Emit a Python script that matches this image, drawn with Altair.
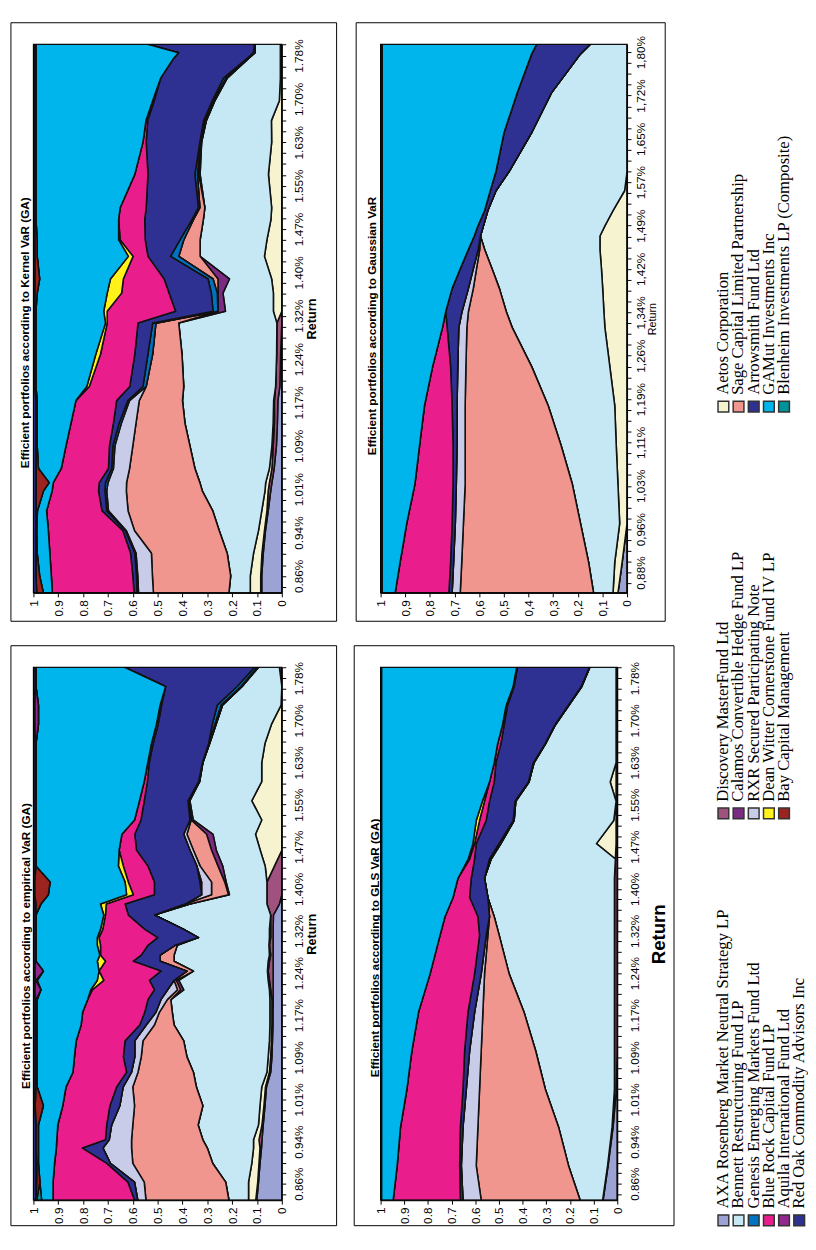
import altair as alt
import pandas as pd

SANS = "Liberation Sans, Arial, Helvetica, sans-serif"
SERIF = "Liberation Serif, Times New Roman, serif"

# ---------------- series (stack order from weight 0 upward) ----------------
SERIES = [
    "AXA Rosenberg Market Neutral Strategy LP",
    "Discovery MasterFund Ltd",
    "Aetos Corporation",
    "Bennett Restructuring Fund LP",
    "Calamos Convertible Hedge Fund LP",
    "Sage Capital Limited Partnership",
    "RXR Secured Participating Note",
    "Genesis Emerging Markets Fund Ltd",
    "Arrowsmith Fund Ltd",
    "Blue Rock Capital Fund LP",
    "Dean Witter Cornerstone Fund IV LP",
    "GAMut Investments Inc",
    "Blenheim Investments LP (Composite)",
    "Bay Capital Management",
    "Aquila International Fund Ltd",
    "Red Oak Commodity Advisors Inc",
]
COLORS = ["#9AA3D3", "#A0527F", "#F5F3D0", "#C6E8F5", "#7B2C82", "#F0968F",
          "#C9CCE8", "#0072C0", "#2E3192", "#E91E8C", "#FFF21A", "#00B4EC",
          "#009499", "#9B2421", "#92278F", "#2E3192"]

LEGEND_GROUP_1 = ["AXA Rosenberg Market Neutral Strategy LP", "Bennett Restructuring Fund LP",
                  "Genesis Emerging Markets Fund Ltd", "Blue Rock Capital Fund LP",
                  "Aquila International Fund Ltd", "Red Oak Commodity Advisors Inc"]
LEGEND_GROUP_2 = ["Discovery MasterFund Ltd", "Calamos Convertible Hedge Fund LP",
                  "RXR Secured Participating Note", "Dean Witter Cornerstone Fund IV LP",
                  "Bay Capital Management"]
LEGEND_GROUP_3 = ["Aetos Corporation", "Sage Capital Limited Partnership", "Arrowsmith Fund Ltd",
                  "GAMut Investments Inc", "Blenheim Investments LP (Composite)"]

WEIGHT_TICKS = [0, 0.1, 0.2, 0.3, 0.4, 0.5, 0.6, 0.7, 0.8, 0.9, 1]
RET_TICKS_A = [0.86, 0.9367, 1.0133, 1.09, 1.1667, 1.2433, 1.32, 1.3967, 1.4733, 1.55, 1.6267, 1.7033, 1.78]
RET_TICKS_G = [0.88, 0.9567, 1.0333, 1.11, 1.1867, 1.2633, 1.34, 1.4167, 1.4933, 1.57, 1.6467, 1.7233, 1.80]

# ---------------- Kernel VaR (GA): stacked upper edges ----------------
K_RETURN = [0.83, 0.86, 0.90, 0.94, 0.975, 1.01, 1.025, 1.05, 1.09, 1.13, 1.17, 1.195, 1.252, 1.307, 1.328,
            1.36, 1.385, 1.425, 1.454, 1.49, 1.511, 1.57, 1.627, 1.665, 1.70, 1.74, 1.775, 1.785, 1.80]
K_AXA = [.081, .081, .075, .066, .055, .045, .04, .031, .022, .018, .016, .008, .005, 0, 0,
         0, 0, 0, 0, 0, 0, 0, 0, 0, 0, 0, .003, .003, .003]
K_DISC = [.085, .085, .08, .07, .06, .055, .05, .04, .035, .03, .03, .025, .021, .02, 0,
          0, 0, 0, 0, 0, 0, 0, 0, 0, 0, 0, .006, .006, .006]
K_AETOS = [.127, .127, .114, .094, .081, .068, .065, .05, .04, .035, .033, .025, .021, .02, .034,
           .034, .041, .07, .06, .044, .041, .054, .041, .042, .01, .006, .006, .006, .006]
K_BENNETT = [.213, .206, .22, .252, .278, .32, .33, .35, .37, .39, .40, .395, .402, .415, .227,
             .237, .211, .329, .329, .316, .31, .329, .323, .304, .27, .22, .134, .108, .108]
K_CALAMOS = [.213, .206, .22, .252, .278, .32, .33, .35, .37, .39, .40, .395, .402, .415, .257,
             .257, .257, .329, .329, .316, .31, .335, .323, .304, .27, .22, .134, .108, .108]
K_SAGE = [.517, .521, .525, .593, .619, .626, .625, .613, .60, .587, .574, .546, .52, .507, .257,
          .26, .277, .415, .395, .356, .33, .34, .327, .31, .275, .225, .134, .108, .108]
K_RXR = [.577, .58, .587, .626, .698, .705, .70, .678, .672, .646, .613, .546, .52, .507, .257,
         .26, .277, .415, .395, .356, .33, .34, .327, .31, .275, .225, .134, .108, .108]
K_GENESIS = [.583, .585, .592, .63, .705, .712, .71, .685, .68, .655, .62, .559, .539, .52, .277,
             .284, .297, .448, .41, .362, .336, .35, .33, .315, .28, .235, .14, .115, .11]
K_ARROW = [.595, .60, .609, .64, .724, .738, .735, .698, .694, .678, .665, .612, .592, .579, .428,
           .454, .474, .539, .55, .552, .546, .539, .546, .54, .514, .488, .436, .416, .54]
K_BLUEROCK = [.924, .928, .934, .94, .947, .925, .92, .888, .869, .849, .829, .775, .73, .703, .703,
              .645, .638, .599, .651, .657, .651, .592, .559, .547, .52, .488, .436, .416, .54]
K_DEAN = [.924, .928, .934, .94, .947, .925, .92, .888, .869, .849, .829, .785, .749, .71, .717,
          .703, .69, .618, .657, .657, .651, .592, .559, .547, .52, .488, .436, .416, .54]
K_GAMUT = [.96, .975, .985, .987, .984, .96, .937, .98, .985, .985, .985, .99, .99, .99, .99,
           .985, .975, .985, .985, .99, .99, .99, .99, .99, .99, .99, .99, .99, .99]
K_BAY = [.987, .99, .99, .99, .99, .99, .99, .99, .99, .99, .99, .995, .995, .995, .995,
         .995, .995, .995, .995, .995, .995, .995, .995, .995, .995, .995, .995, .995, .995]

# ---------------- Gaussian VaR ----------------
G_RETURN = [0.844, 0.898, 0.967, 1.036, 1.105, 1.175, 1.244, 1.313, 1.341, 1.382, 1.417, 1.451, 1.475,
            1.493, 1.52, 1.555, 1.589, 1.658, 1.728, 1.797, 1.814]
G_AXA = [.037, .02, 0, 0, 0, 0, 0, 0, 0, 0, 0, 0, 0, 0, 0, 0, 0, 0, 0, 0, 0]
G_AETOS = [.057, .05, .03, .037, .044, .05, .07, .09, .094, .099, .104, .11, .11, .09, .057, .01, 0, 0, 0, 0, 0]
G_BENNETT = [.136, .156, .189, .222, .268, .32, .387, .466, .49, .518, .548, .578, .595, .583, .565, .532,
             .479, .387, .307, .189, .149]
G_SAGE = [.677, .671, .664, .657, .657, .657, .654, .65, .644, .624, .611, .598, .595, .583, .565, .532,
          .479, .387, .307, .189, .149]
G_RXR = [.71, .704, .697, .693, .69, .69, .687, .683, .67, .644, .624, .604, .595, .583, .565, .532,
         .479, .387, .307, .189, .149]
G_ARROW = [.723, .716, .71, .706, .706, .71, .716, .73, .736, .71, .677, .644, .62, .605, .578, .555,
           .532, .499, .446, .387, .367]
G_BLUEROCK = [.941, .921, .894, .861, .842, .822, .789, .749, .736, .71, .677, .644, .62, .605, .578, .555,
              .532, .499, .446, .387, .367]
G_GAMUT = [.995, .995, .995, .995, .995, .995, .995, .995, .995, .995, .995, .995, .995, .995, .995, .995,
           .995, .995, .995, .995, .995]

# ---------------- empirical VaR (GA) ----------------
E_RETURN = [0.83, 0.863, 0.897, 0.925, 0.94, 0.967, 1.002, 1.036, 1.063, 1.091, 1.12, 1.149, 1.172,
            1.195, 1.213, 1.23, 1.247, 1.265, 1.276, 1.294, 1.308, 1.323, 1.349, 1.369, 1.386, 1.409,
            1.438, 1.467, 1.496, 1.522, 1.557, 1.592, 1.626, 1.661, 1.696, 1.731, 1.765, 1.80]
E_AXA = [.101, .094, .088, .082, .08, .075, .068, .062, .045, .04, .038, .036, .036,
         .035, .035, .035, .035, .035, .035, .035, .035, .035, .034, .01, 0, 0,
         0, 0, 0, 0, 0, 0, 0, 0, 0, 0, 0, 0]
E_DISC = [.105, .097, .092, .088, .092, .08, .072, .066, .05, .045, .042, .04, .04,
          .04, .045, .05, .055, .05, .045, .05, .045, .045, .045, .06, .06, .06,
          .03, 0, 0, 0, 0, 0, 0, 0, 0, 0, 0, .01]
E_AETOS = [.134, .134, .121, .114, .114, .094, .088, .081, .06, .055, .05, .048, .048,
           .048, .05, .055, .058, .055, .05, .052, .05, .05, .045, .06, .06, .06,
           .067, .087, .106, .081, .121, .081, .081, .068, .042, .003, 0, .01]
E_BENNETT = [.213, .226, .278, .30, .318, .337, .318, .344, .356, .382, .395, .434, .441,
             .447, .395, .415, .356, .434, .434, .421, .336, .395, .513, .37, .211, .224,
             .238, .264, .277, .357, .37, .331, .318, .291, .265, .239, .16, .094]
E_CALAMOS = [.213, .226, .278, .30, .318, .337, .318, .344, .356, .382, .395, .434, .441,
             .447, .408, .425, .356, .434, .434, .421, .336, .395, .513, .37, .215, .23,
             .257, .283, .303, .365, .375, .331, .318, .291, .265, .239, .16, .094]
E_SAGE = [.547, .554, .60, .605, .605, .60, .593, .60, .579, .566, .559, .513, .493,
          .461, .42, .434, .382, .49, .49, .43, .336, .395, .513, .39, .283, .283,
          .329, .356, .382, .365, .375, .331, .318, .291, .265, .239, .16, .094]
E_RXR = [.58, .593, .69, .72, .695, .685, .652, .639, .605, .592, .592, .546, .507,
         .487, .46, .434, .382, .49, .49, .43, .336, .395, .513, .39, .323, .323,
         .342, .37, .395, .37, .378, .335, .32, .293, .27, .245, .165, .10]
E_GENESIS = [.58, .593, .69, .72, .695, .685, .652, .639, .605, .592, .592, .546, .507,
             .487, .46, .434, .382, .49, .49, .43, .336, .395, .513, .39, .323, .33,
             .342, .37, .395, .37, .378, .335, .32, .295, .28, .26, .18, .11]
E_ARROW = [.593, .62, .705, .803, .71, .705, .692, .665, .625, .638, .631, .572, .552,
           .539, .513, .533, .487, .598, .566, .539, .50, .552, .618, .631, .513, .513,
           .539, .585, .592, .567, .554, .541, .534, .518, .498, .484, .468, .633]
E_BLUEROCK = [.921, .921, .915, .908, .906, .902, .882, .869, .841, .835, .828, .808, .802,
              .782, .763, .717, .736, .71, .73, .73, .736, .721, .71, .707, .598, .618,
              .638, .655, .644, .593, .573, .554, .54, .525, .505, .49, .468, .633]
E_DEAN = [.921, .921, .915, .908, .906, .902, .882, .869, .841, .835, .828, .808, .802,
          .782, .769, .743, .736, .743, .733, .743, .743, .73, .717, .73, .625, .631,
          .658, .655, .644, .593, .573, .554, .54, .525, .505, .49, .468, .633]
E_GAMUT = [.967, .974, .98, .98, .98, .98, .96, .985, .985, .985, .985, .985, .985,
           .985, .97, .985, .96, .99, .99, .99, .99, .99, .99, .97, .94, .933,
           .99, .99, .99, .99, .99, .99, .99, .99, .98, .98, .99, .99]
E_BLENHEIM = [.987, .974, .98, .98, .98, .98, .96, .985, .985, .985, .985, .985, .985,
              .985, .97, .985, .96, .99, .99, .99, .99, .99, .99, .97, .94, .933,
              .99, .99, .99, .99, .99, .99, .99, .99, .98, .98, .99, .99]
E_BAY = [.99, .987, .987, .99, .99, .99, .993, .99, .99, .99, .99, .99, .99,
         .99, .97, .99, .96, .99, .99, .99, .99, .99, .99, .99, .995, .995,
         .99, .99, .99, .99, .99, .99, .99, .99, .98, .98, .99, .99]
E_AQUILA = [.99, .99, .99, .99, .99, .99, .995, .993, .993, .993, .993, .993, .993,
            .993, .995, .993, .995, .993, .993, .993, .993, .993, .993, .993, .997, .997,
            .993, .993, .993, .993, .993, .993, .993, .993, .995, .995, .993, .993]

# ---------------- GLS VaR (GA) ----------------
L_RETURN = [0.83, 0.893, 0.963, 1.032, 1.102, 1.172, 1.242, 1.312, 1.346, 1.381, 1.416, 1.451, 1.479,
            1.521, 1.556, 1.591, 1.626, 1.66, 1.695, 1.73, 1.765, 1.80]
L_AXA = [.06, .039, .018, .004, 0, 0, 0, 0, 0, 0, 0, 0, 0, 0, 0, 0, 0, 0, 0, 0, 0, 0]
L_DISC = [.062, .041, .022, .012, .012, .012, .012, .012, .012, .012, .012, .008, .005,
          .005, .005, .005, .005, .005, .005, .005, .005, .005]
L_AETOS = [.062, .041, .022, .012, .012, .012, .012, .012, .012, .012, .012, .008, .088,
           .015, .005, .03, .005, .005, .005, .005, .005, .005]
L_BENNETT = [.157, .206, .248, .304, .345, .394, .457, .499, .52, .547, .561, .533, .492,
             .436, .429, .373, .352, .304, .262, .206, .15, .116]
L_SAGE = [.575, .596, .589, .582, .575, .568, .561, .547, .54, .547, .561, .533, .492,
          .436, .429, .373, .352, .304, .262, .206, .15, .116]
L_RXR = [.652, .659, .652, .638, .624, .603, .575, .554, .54, .547, .561, .54, .50,
         .44, .432, .376, .355, .306, .264, .208, .152, .118]
L_ARROW = [.663, .666, .663, .652, .645, .631, .603, .582, .589, .624, .617, .603, .596,
           .554, .54, .52, .513, .492, .478, .464, .436, .422]
L_BLUEROCK = [.947, .93, .916, .889, .868, .84, .791, .749, .728, .694, .673, .624, .603,
              .582, .561, .54, .52, .506, .485, .47, .44, .425]
L_DEAN = [.947, .93, .916, .889, .868, .84, .791, .749, .728, .694, .673, .63, .61,
          .596, .57, .54, .52, .506, .485, .47, .44, .425]
L_GAMUT = [.997, .997, .997, .997, .997, .997, .997, .997, .997, .997, .997, .997, .997,
           .997, .997, .997, .997, .997, .997, .997, .997, .997]


def stack_rows(returns, tops):
    """tops: upper edge of each series except the last (None = zero weight)."""
    rows = []
    prev = [0.0] * len(returns)
    for name, top in zip(SERIES, tops + [None]):
        if name == SERIES[-1]:
            cur = [1.0 for _ in returns]          # weights sum to one
        elif top is None:
            cur = prev
        else:
            assert len(top) == len(returns), name
            cur = [max(t, p) for t, p in zip(top, prev)]
        for r, lo, hi in zip(returns, prev, cur):
            rows.append({"series": name, "r": r, "lo": lo, "hi": hi})
        prev = cur
    return pd.DataFrame(rows)


def ret_ticks(majors, dom):
    step = (majors[-1] - majors[0]) / (len(majors) - 1)
    q = step / 4
    t = majors[0]
    while t - q >= dom[0]:
        t -= q
    vals = []
    while t <= dom[1] + 1e-9:
        vals.append(round(t, 5))
        t += q
    return vals, majors[0], step


ONE = pd.DataFrame({"k": [0]})


def panel(df, title, W, H, ydom, majors, comma, frame, cell, tpos,
          ret_size, ret_weight, ret_pad, lab_pad):
    vals, base, step = ret_ticks(majors, ydom)
    fmt = "format(datum.value, '.2f')"
    wfmt = "format(datum.value, '.1f')"
    if comma:
        fmt = "replace(" + fmt + ", '.', ',')"
        wfmt = "replace(" + wfmt + ", '.', ',')"
    ret_expr = (f"abs((datum.value - {base}) / {step} - round((datum.value - {base}) / {step})) < 0.05"
                f" ? {fmt} + '%' : ''")
    w_expr = f"datum.value == 0 ? '0' : datum.value == 1 ? '1' : {wfmt}"

    layers = []
    if cell is not None:
        layers.append(alt.Chart(ONE).mark_rect(opacity=0).encode(
            x=alt.value(cell[0]), x2=alt.value(cell[1]), y=alt.value(cell[2]), y2=alt.value(cell[3])))
    layers.append(alt.Chart(ONE).mark_rect(fill="white", stroke="#000", strokeWidth=1).encode(
        x=alt.value(frame[0]), x2=alt.value(frame[1]), y=alt.value(frame[2]), y2=alt.value(frame[3])))

    yaxis = alt.Axis(orient="right", values=vals, labelExpr=ret_expr, labelAngle=270,
                     labelAlign="center", labelBaseline="top", labelPadding=lab_pad,
                     labelFont=SANS, labelFontSize=12, labelColor="#000", labelOverlap=False,
                     labelFlush=False, tickSize=4, tickColor="#000", domainColor="#000",
                     grid=False, zindex=1, title="Return", titleAngle=270, titleAlign="center",
                     titleBaseline="top", titlePadding=ret_pad, titleFont=SANS,
                     titleFontSize=ret_size, titleFontWeight=ret_weight, titleColor="#000")
    xaxis = alt.Axis(orient="bottom", values=WEIGHT_TICKS, labelExpr=w_expr, labelAngle=270,
                     labelAlign="right", labelBaseline="middle", labelPadding=3,
                     labelFont=SANS, labelFontSize=12, labelColor="#000", labelOverlap=False,
                     labelFlush=False, tickSize=4, tickColor="#000", domainColor="#000",
                     grid=False, zindex=1, title=None)
    area = alt.Chart(df).mark_area(orient="horizontal", stroke="#111111", strokeWidth=1.6,
                                   strokeJoin="round", clip=True).encode(
        y=alt.Y("r:Q", scale=alt.Scale(domain=ydom, nice=False, zero=False), axis=yaxis),
        x=alt.X("lo:Q", scale=alt.Scale(domain=[0, 1], reverse=True, nice=False, zero=False), axis=xaxis),
        x2="hi:Q",
        color=alt.Color("series:N", scale=alt.Scale(domain=SERIES, range=COLORS), legend=None),
    )
    border = alt.Chart(ONE).mark_rect(fillOpacity=0, stroke="#000", strokeWidth=1.2).encode(
        x=alt.value(0), x2=alt.value(W), y=alt.value(0), y2=alt.value(H))
    ttl = alt.Chart(pd.DataFrame({"t": [title]})).mark_text(
        angle=270, align="center", baseline="alphabetic", font=SANS, fontSize=12,
        fontWeight="bold", color="#000").encode(x=alt.value(tpos[0]), y=alt.value(tpos[1]), text="t:N")
    return alt.layer(*layers, area, border, ttl).properties(width=W, height=H)


kernel_df = stack_rows(K_RETURN, [K_AXA, K_DISC, K_AETOS, K_BENNETT, K_CALAMOS, K_SAGE, K_RXR,
                                  K_GENESIS, K_ARROW, K_BLUEROCK, K_DEAN, K_GAMUT, None, K_BAY, None])
gauss_df = stack_rows(G_RETURN, [G_AXA, None, G_AETOS, G_BENNETT, None, G_SAGE, G_RXR, None,
                                 G_ARROW, G_BLUEROCK, None, G_GAMUT, None, None, None])
emp_df = stack_rows(E_RETURN, [E_AXA, E_DISC, E_AETOS, E_BENNETT, E_CALAMOS, E_SAGE, E_RXR,
                               E_GENESIS, E_ARROW, E_BLUEROCK, E_DEAN, E_GAMUT, E_BLENHEIM,
                               E_BAY, E_AQUILA])
gls_df = stack_rows(L_RETURN, [L_AXA, L_DISC, L_AETOS, L_BENNETT, None, L_SAGE, L_RXR, None,
                               L_ARROW, L_BLUEROCK, L_DEAN, L_GAMUT, None, None, None])

kernel = panel(kernel_df, "Efficient portfolios according to Kernel VaR (GA)", 254, 561,
               [0.83, 1.80], RET_TICKS_A, False, (-23, 310, -22, 590), None, (-5, 295),
               13, "bold", 1, 8)
empirical = panel(emp_df, "Efficient portfolios according to empirical VaR (GA)", 254, 545,
                  [0.83, 1.80], RET_TICKS_A, False, (-23, 310, -22, 571), None, (-4, 285),
                  13, "bold", 1, 8)
gauss = panel(gauss_df, "Efficient portfolios according to Gaussian VaR", 252, 561,
              [0.844, 1.814], RET_TICKS_G, True, (-25, 291, -22, 590), (-34, 293, -22, 590), (-5, 288),
              11, "normal", 0, 5)
gls = panel(gls_df, "Efficient portfolios according to GLS VaR (GA)", 242, 545,
            [0.83, 1.80], RET_TICKS_A, False, (-27, 300, -22, 571), None, (-2, 287),
            19, "bold", 9, 9)

# ---------------- legend (rotated, drawn manually) ----------------
leg_rows = []
for g, items in enumerate([LEGEND_GROUP_1, LEGEND_GROUP_2, LEGEND_GROUP_3]):
    for i, name in enumerate(items):
        leg_rows.append({"name": name, "g": g, "i": i})
leg_df = pd.DataFrame(leg_rows)
leg_base = alt.Chart(leg_df).encode(
    x=alt.X("i:Q", scale=alt.Scale(domain=[-2.548, 5.065], nice=False, zero=False), axis=None),
    y=alt.Y("g:Q", scale=alt.Scale(domain=[0, 2], range=[1202.5, 370.5], nice=False, zero=False),
            axis=None),
)
leg_sq = leg_base.mark_square(size=121, opacity=1, stroke="#333", strokeWidth=1.5).encode(
    color=alt.Color("name:N", scale=alt.Scale(domain=SERIES, range=COLORS), legend=None))
leg_tx = leg_base.mark_text(angle=270, align="left", baseline="middle", dx=12, font=SERIF,
                            fontSize=17, color="#000").encode(text="name:N")
legend = alt.layer(leg_sq, leg_tx).properties(width=118, height=1228)

chart = alt.hconcat(
    alt.vconcat(kernel, empirical, spacing=23),
    alt.vconcat(gauss, gls, spacing=23),
    legend,
    spacing=10,
).properties(
    padding={"left": 2, "top": 0, "right": 0, "bottom": 0},
    background="white",
).configure_view(strokeWidth=0)

chart.save("out.html", embed_options={"renderer": "svg", "actions": False})
